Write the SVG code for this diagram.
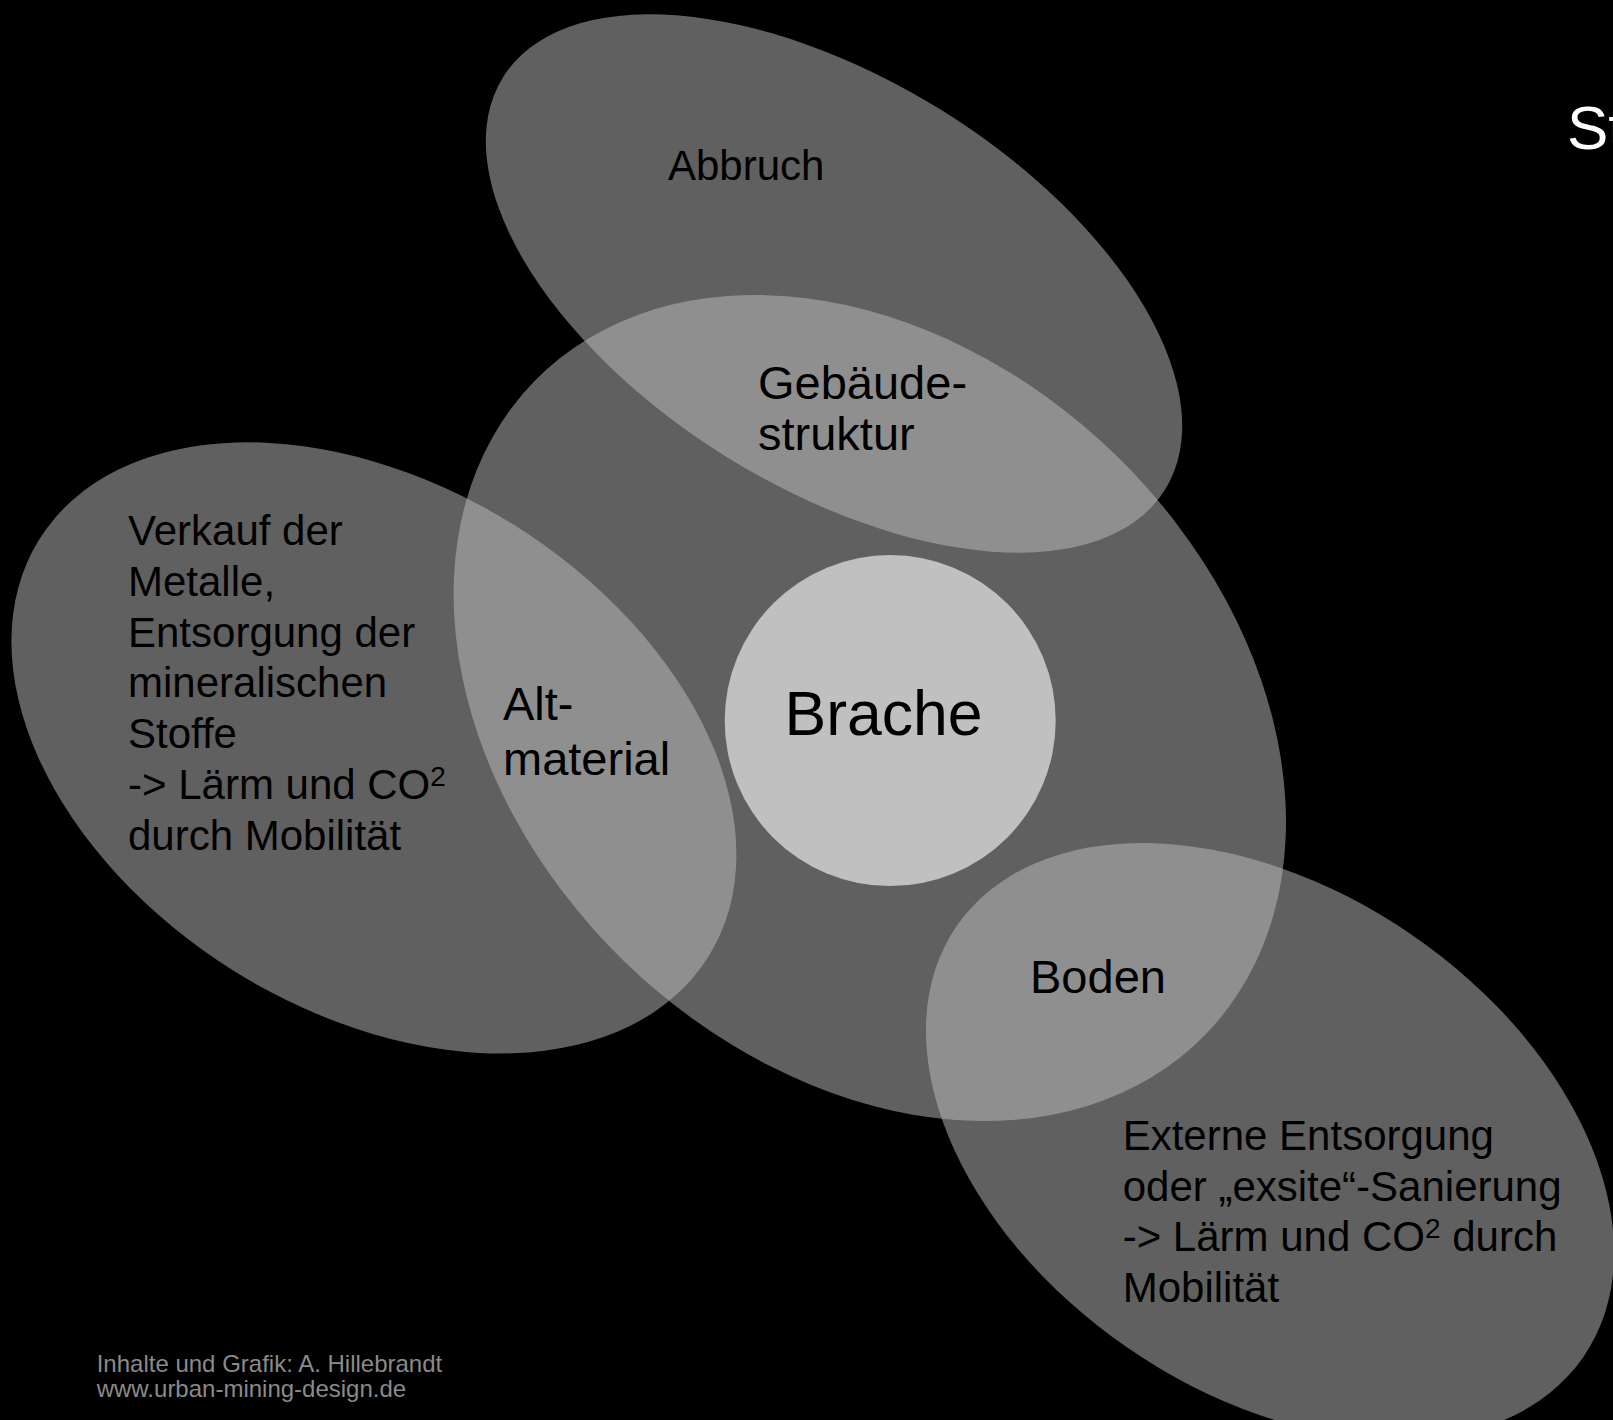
<svg xmlns="http://www.w3.org/2000/svg" xmlns:xlink="http://www.w3.org/1999/xlink" width="1613" height="1420" viewBox="0 0 1613 1420">
  <style>
    .area { fill: #606060; }
    .lens { fill: #8f8f8f; }
    .core { fill: #c0c0c0; }
    .lbl { font-family: "Liberation Sans", Arial, sans-serif; fill: #000; }
    .t42 { font-size: 42px; }
    .t47 { font-size: 47px; }
    .sup { font-size: 28px; }
    .foot { font-family: "Liberation Sans", Arial, sans-serif; font-size: 24px; fill: #8a8a8a; }
    .head { font-family: "Liberation Sans", Arial, sans-serif; font-size: 62px; fill: #fff; }
  </style>
  <defs>
    <ellipse id="e-big" cx="869.8" cy="708" rx="468.3" ry="352.8" transform="rotate(44.2 869.8 708)"/>
    <ellipse id="e-top" cx="834" cy="283.5" rx="390" ry="204" transform="rotate(31.9 834 283.5)"/>
    <ellipse id="e-left" cx="373.9" cy="747.9" rx="394.3" ry="263.3" transform="rotate(31.9 373.9 747.9)"/>
    <ellipse id="e-br" cx="1270" cy="1141.5" rx="380.3" ry="250.7" transform="rotate(34.5 1270 1141.5)"/>
    <clipPath id="clip-big"><use xlink:href="#e-big"/></clipPath>
  </defs>

  <rect width="1613" height="1420" fill="#000"/>

  <!-- central field -->
  <g id="node-bestand">
    <use xlink:href="#e-big" class="area"/>
  </g>

  <!-- outer fields -->
  <g id="node-abbruch">
    <use xlink:href="#e-top" class="area"/>
    <text class="lbl t42" x="668" y="180">Abbruch</text>
  </g>

  <g id="node-verkauf">
    <use xlink:href="#e-left" class="area"/>
    <text class="lbl t42">
      <tspan x="128" y="545">Verkauf der</tspan>
      <tspan x="128" y="595.8">Metalle,</tspan>
      <tspan x="128" y="646.6">Entsorgung der</tspan>
      <tspan x="128" y="697.4">mineralischen</tspan>
      <tspan x="128" y="748.2">Stoffe</tspan>
      <tspan x="128" y="799">-&gt; Lärm und CO<tspan class="sup" dy="-12.6">2</tspan></tspan>
      <tspan x="128" y="849.8">durch Mobilität</tspan>
    </text>
  </g>

  <g id="node-externe">
    <use xlink:href="#e-br" class="area"/>
    <text class="lbl t42">
      <tspan x="1122.7" y="1150">Externe Entsorgung</tspan>
      <tspan x="1122.7" y="1200.5">oder „exsite“-Sanierung</tspan>
      <tspan x="1122.7" y="1251">-&gt; Lärm und CO<tspan class="sup" dy="-12.6">2</tspan><tspan dy="12.6"> durch</tspan></tspan>
      <tspan x="1122.7" y="1301.5">Mobilität</tspan>
    </text>
  </g>

  <!-- overlaps with the central field -->
  <g id="node-gebaeudestruktur">
    <use xlink:href="#e-top" class="lens" clip-path="url(#clip-big)"/>
    <text class="lbl t47">
      <tspan x="758" y="398.5">Gebäude-</tspan>
      <tspan x="758" y="450">struktur</tspan>
    </text>
  </g>

  <g id="node-altmaterial">
    <use xlink:href="#e-left" class="lens" clip-path="url(#clip-big)"/>
    <text class="lbl t47">
      <tspan x="503" y="720">Alt-</tspan>
      <tspan x="503" y="774.5">material</tspan>
    </text>
  </g>

  <g id="node-boden">
    <use xlink:href="#e-br" class="lens" clip-path="url(#clip-big)"/>
    <text class="lbl t47" x="1030" y="993">Boden</text>
  </g>

  <!-- core -->
  <g id="node-brache">
    <circle class="core" cx="890.2" cy="720.6" r="165.5"/>
    <text class="lbl" x="784.5" y="735" font-size="62.5">Brache</text>
  </g>

  <g id="heading">
    <text class="head" x="1567" y="149">St</text>
  </g>

  <g id="credits">
    <text class="foot" x="96.7" y="1371.7">Inhalte und Grafik: A. Hillebrandt</text>
    <text class="foot" x="96.7" y="1396.7">www.urban-mining-design.de</text>
  </g>
</svg>
